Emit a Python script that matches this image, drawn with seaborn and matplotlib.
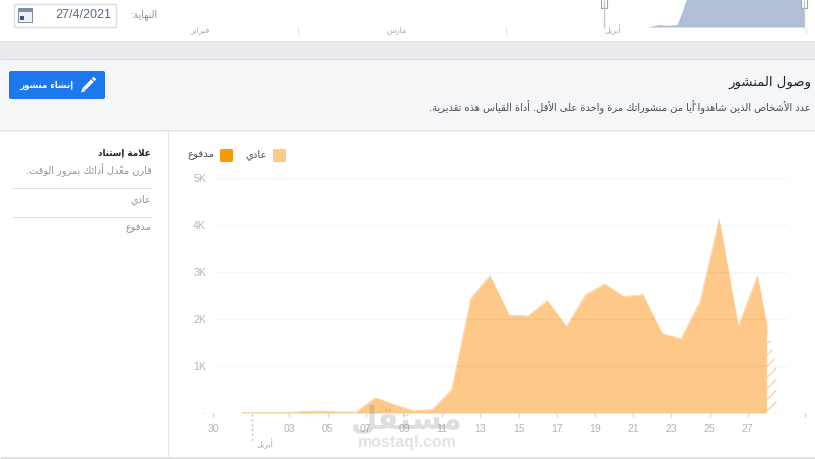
import unicodedata
import numpy as np
import matplotlib
matplotlib.use('Agg')
import matplotlib.pyplot as plt
from matplotlib.patches import Rectangle, FancyBboxPatch
import seaborn as sns

# Organic reach, one value per day, points sit in the middle of the day slot
organic_reach = [10, 10, 15, 25, 45, 25, 20, 325, 175, 45, 75, 500, 2440, 2920, 2085, 2065,
                 2390, 1837, 2510, 2745, 2475, 2518, 1695, 1575, 2370, 4120, 1837, 2915]
first_point = 1.5
# last day is still incomplete: solid up to the cut, hatched after it
cut_position = [29.0, 29.5]
cut_reach = [1840, 985]

tick_positions = [0, 4, 6, 8, 10, 12, 14, 16, 18, 20, 22, 24, 26, 28, 31]
tick_labels = ['30', '03', '05', '07', '09', '11', '13', '15', '17', '19', '21', '23', '25', '27', '']
y_ticks = [0, 1000, 2000, 3000, 4000, 5000]
y_labels = ['·', '1K', '2K', '3K', '4K', '5K']

# Small overview chart at the very top
mini_x = [640, 648, 654, 660, 668, 677, 682, 687, 695, 800, 804]
mini_y = [0, 0, 5, 8, 6, 8, 50, 100, 115, 115, 115]

series_names = ['عادي', 'مدفوع']
series_colors = ['#fdc888', '#f59b0a']
month_names = ['فبراير', 'مارس', 'أبريل']
title = 'وصول المنشور'
subtitle = 'عدد الأشخاص الذين شاهدوا أيًا من منشوراتك مرة واحدة على الأقل. أداة القياس هذه تقديرية.'


# matplotlib does no Arabic shaping, so pick the presentation forms and flip the order
forms = {}
for code in list(range(0xFB50, 0xFDFF)) + list(range(0xFE70, 0xFEFD)):
    parts = unicodedata.decomposition(chr(code)).split()
    if len(parts) == 2 and parts[0] in ('<isolated>', '<final>', '<initial>', '<medial>'):
        forms.setdefault((chr(int(parts[1], 16)), parts[0]), chr(code))
no_left_join = set('اأإآدذرزوؤةى')
marks = set('\u064b\u064c\u064d\u064e\u064f\u0650\u0651\u0652')


def is_arabic(ch):
    return (ch, '<isolated>') in forms


def shape(text):
    text = text.replace('لا', '\ufefb').replace('لأ', '\ufef7').replace('لإ', '\ufef9')
    text = text.replace('\ufefb', 'ل\ufefb').replace('\ufef7', 'ل\ufef7').replace('\ufef9', 'ل\ufef9')
    clusters = []
    for ch in text:
        if ch in marks and clusters:
            clusters[-1][1] += ch
        else:
            clusters.append([ch, ''])
    out = []
    for i, (ch, mk) in enumerate(clusters):
        prev = clusters[i - 1][0] if i else ' '
        nxt = clusters[i + 1][0] if i + 1 < len(clusters) else ' '
        if ch in '\ufefb\ufef7\ufef9':
            # second half of a lam-alef pair, the lam before it carries the join
            before = clusters[i - 2][0] if i > 1 else ' '
            joined = (is_arabic(before) and before not in no_left_join) or before == 'ل'
            out.append(chr(ord(ch) + 1) if joined else ch)
            continue
        if nxt in '\ufefb\ufef7\ufef9' and ch == 'ل':
            continue
        if not is_arabic(ch):
            out.append(ch + mk)
            continue
        join_prev = is_arabic(prev) and prev not in no_left_join
        join_next = (is_arabic(nxt) or nxt in '\ufefb\ufef7\ufef9') and ch not in no_left_join
        kind = {(0, 0): '<isolated>', (1, 0): '<final>', (0, 1): '<initial>', (1, 1): '<medial>'}[(join_prev, join_next)]
        out.append(forms.get((ch, kind), forms[(ch, '<isolated>')]) + mk)
    return ''.join(reversed(out))


sns.set_theme(style='white')
plt.rcParams['font.family'] = ['DejaVu Sans']
plt.rcParams['hatch.linewidth'] = 1.0
plt.rcParams['hatch.color'] = '#f5d3a8'

W, H = 815, 459
fig = plt.figure(figsize=(W / 100, H / 100), dpi=100, facecolor='white')

# page furniture, in pixel coordinates
page = fig.add_axes([0, 0, 1, 1], zorder=0)
page.set_xlim(0, W)
page.set_ylim(H, 0)
page.axis('off')
page.add_patch(Rectangle((0, 42), W, 17, fc='#e9ebee', ec='none'))
page.add_patch(FancyBboxPatch((-10, -20), W + 20, 62, boxstyle='round,pad=0,rounding_size=5', fc='white', ec='#dddfe2', lw=1))
page.add_patch(Rectangle((0, 59), W, 70, fc='#f5f6f7', ec='none'))
page.hlines([58.5, 129.5], 0, W, color='#dddfe2', lw=1)
page.hlines(458, 0, W, color='#dddfe2', lw=2)
page.vlines(167.5, 130, 458, color='#e3e5e8', lw=0.8)
page.hlines([187.5, 216.5], 12, 152, color='#dcdee1', lw=0.8)


def arabic(x, y, s, size, color, ha='right', weight='normal', **kw):
    page.text(x, y, shape(s), fontsize=size, color=color, ha=ha, va='center', fontweight=weight,
              family='DejaVu Sans', **kw)


# top strip
page.add_patch(Rectangle((13.5, 3.5), 102, 23, fc='white', ec='#dddfe2', lw=1))
page.add_patch(Rectangle((18, 8), 15, 15, fc='#7f8fa8', ec='none'))
page.add_patch(Rectangle((19, 12), 13, 10, fc='#eef0f3', ec='none'))
page.add_patch(Rectangle((20, 16), 4, 4, fc='#41587c', ec='none'))
page.text(111, 14.5, '27/4/2021', fontsize=9, color='#5b6b85', ha='right', va='center', family='Liberation Sans')
arabic(158, 15, 'النهاية:', 7, '#8d949e')
arabic(200, 30, month_names[0], 5.8, '#a8adb5', ha='center')
arabic(397, 30, month_names[1], 5.8, '#a8adb5', ha='center')
arabic(613, 30, month_names[2], 5.8, '#a8adb5', ha='center')
page.vlines([297.5, 505.5, 805.5], 28, 34, color='#dfe1e4', lw=0.8)
page.fill_between(mini_x, 27, 27 - np.array(mini_y) * 0.3, color='#b2bdd6', lw=0)
page.vlines([604, 804], 0, 28, color='#c4c7cc', lw=1)
page.add_patch(Rectangle((601, -2), 6, 10, fc='white', ec='#a0a4aa', lw=0.8))
page.add_patch(Rectangle((801, -2), 6, 10, fc='white', ec='#a0a4aa', lw=0.8))

# header of the card
arabic(811, 82, title, 9.5, '#1d2129')
arabic(811, 107, subtitle, 7.1, '#4b4f56')
page.add_patch(FancyBboxPatch((9, 71), 96, 28, boxstyle='round,pad=0,rounding_size=2', fc='#1c78ec', ec='none'))
arabic(46, 85, 'إنشاء منشور', 6.3, 'white', ha='center', weight='bold')
# pencil icon
page.plot([84, 92.5], [89, 80.5], color='white', lw=2.6, solid_capstyle='butt')
page.plot([93.2, 95], [79.8, 78], color='white', lw=2.6, solid_capstyle='butt')
page.fill([81, 85.4, 82.6], [92.5, 91.2, 87.8], color='white', lw=0)

# left column
arabic(151, 153, 'علامة إستناد', 6.3, '#1d2129', weight='bold')
arabic(152, 170, 'قارن معدّل أدائك بمرور الوقت.', 7, '#90949c')
arabic(151, 200, series_names[0], 7, '#90949c')
arabic(151, 228, series_names[1], 7, '#90949c')

# legend
for x_box, x_text, name, col in zip([273, 220], [267, 214], series_names, series_colors):
    page.add_patch(FancyBboxPatch((x_box, 149), 13, 13, boxstyle='round,pad=0,rounding_size=1.5', fc=col, ec='none'))
    arabic(x_text, 155, name, 7.3, '#4b4f56')

# April marker under the axis
page.vlines(252, 414, 441, color='#c4c7cc', lw=1, linestyles=(0, (1.5, 2)))
arabic(265, 444, month_names[2], 5.8, '#a8adb5', ha='center')

# main chart, 19.1 px per day and 47 px per 1K
left, right, top, bottom = 213, 805.1, 178, 413
ax = fig.add_axes([left / W, 1 - bottom / H, (right - left) / W, (bottom - top) / H], zorder=1)
ax.patch.set_alpha(0)
positions = first_point + np.arange(len(organic_reach))
solid_x = list(positions) + cut_position[:1]
solid_y = organic_reach + cut_reach[:1]
ax.fill_between(solid_x, 0, solid_y, color=series_colors[0], lw=0, zorder=1)
sns.lineplot(x=solid_x, y=solid_y, estimator=None, sort=False, color=series_colors[0], lw=0.5, ax=ax, zorder=1)
ax.fill_between(cut_position, 0, cut_reach, facecolor='white', edgecolor='#f5d3a8', hatch='///', lw=0, zorder=1)
ax.hlines(y_ticks, 0, 30.05, color='black', alpha=0.035, lw=1, zorder=2)
ax.set_xlim(0, 31)
ax.set_ylim(0, 5000)
ax.set_xticks(tick_positions)
ax.set_xticklabels(tick_labels, fontsize=7.6, color='#b0b4ba', family='Liberation Sans')
ax.set_yticks(y_ticks)
ax.set_yticklabels(y_labels, fontsize=7.6, color='#b0b4ba', family='Liberation Sans')
ax.tick_params(axis='x', length=3, width=1, color='#d5d7db', pad=5, bottom=True)
ax.tick_params(axis='y', length=0, pad=5)
sns.despine(ax=ax, left=True, bottom=True)

# site watermark over the chart
over = fig.add_axes([0, 0, 1, 1], zorder=2)
over.set_xlim(0, W)
over.set_ylim(H, 0)
over.axis('off')
over.text(407, 419, shape('مستقل'), fontsize=22, fontweight='bold', color='#808080', alpha=0.25,
          ha='center', va='center', family='DejaVu Sans')
over.text(407, 442, 'mostaql.com', fontsize=11.5, fontweight='bold', color='#909090', alpha=0.25,
          ha='center', va='center', family='Liberation Sans')

fig.savefig('out.png', dpi=100, facecolor='white')
